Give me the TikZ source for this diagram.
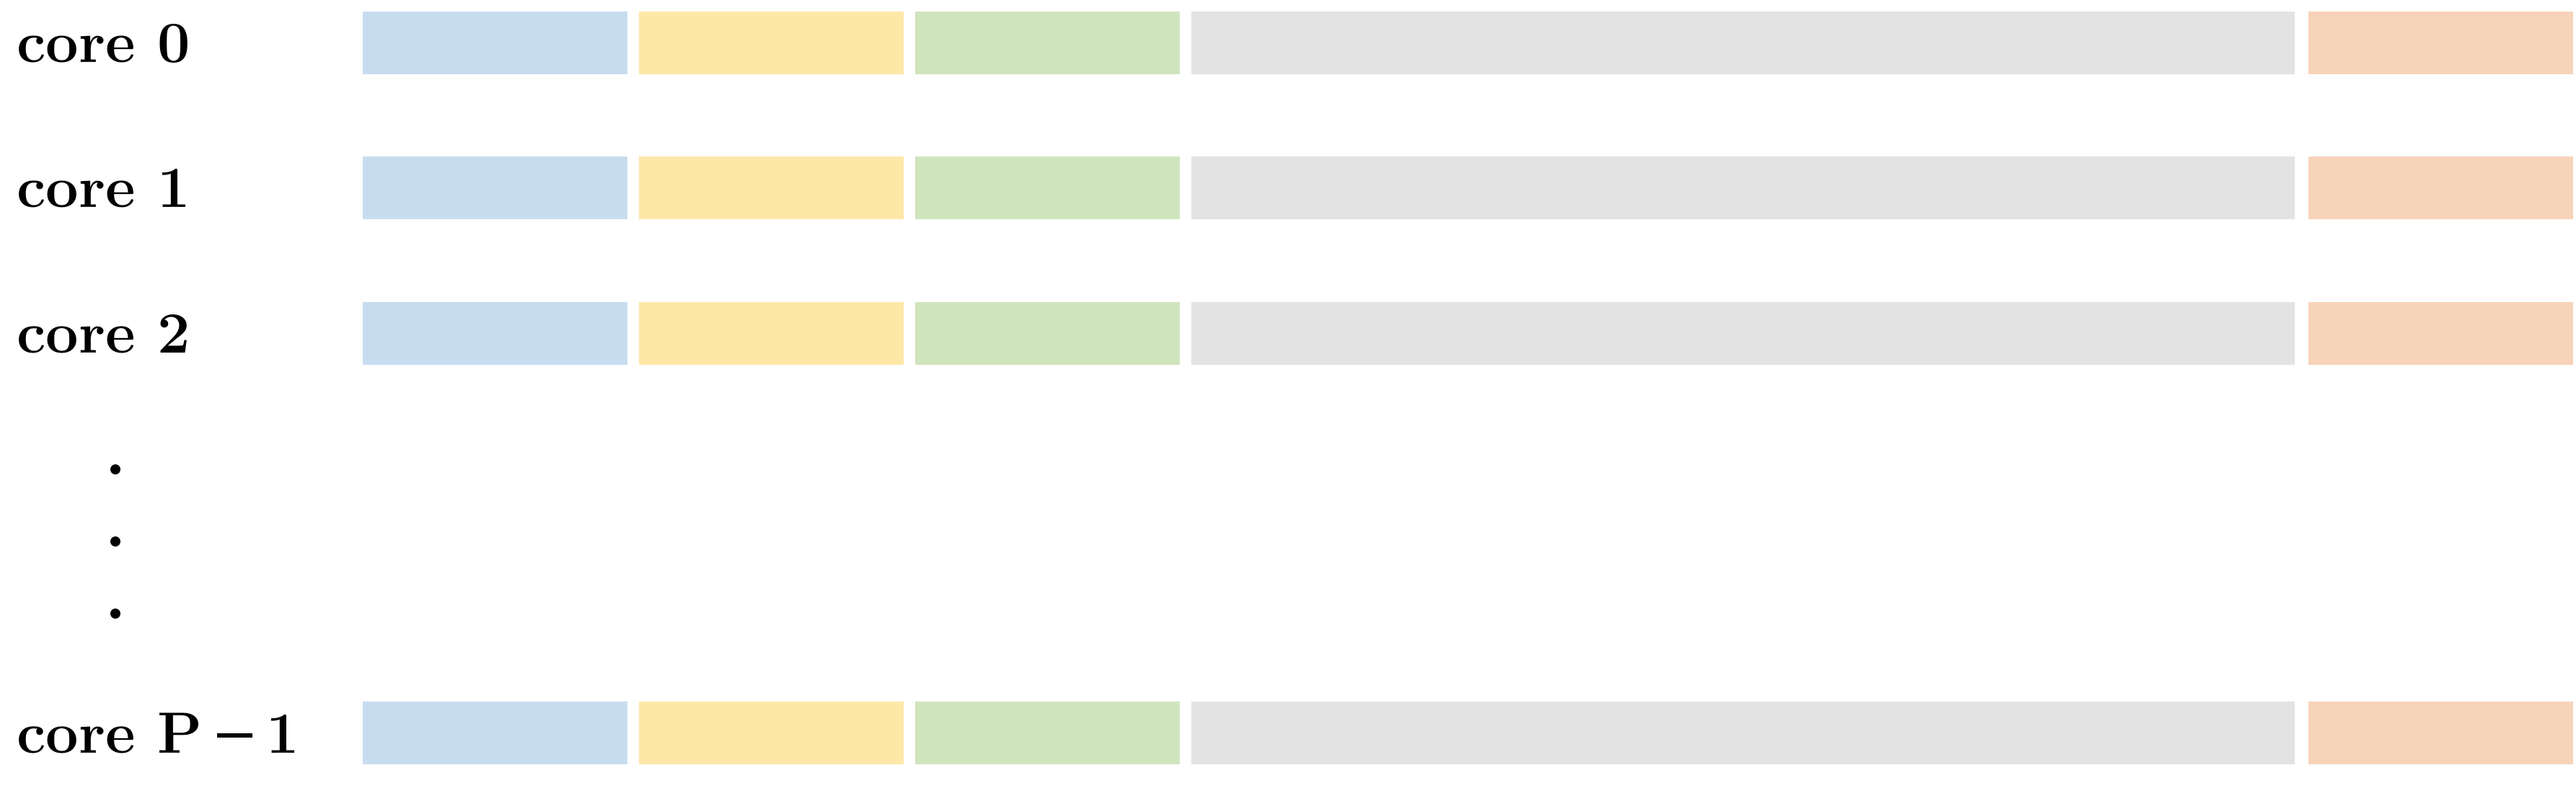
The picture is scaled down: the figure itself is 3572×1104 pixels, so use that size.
\documentclass[tikz,border=0pt]{standalone}
\definecolor{cblue}{HTML}{C8DCF0}
\definecolor{cyellow}{HTML}{FEE8A8}
\definecolor{cgreen}{HTML}{D0E4BE}
\definecolor{cgray}{HTML}{E3E3E3}
\definecolor{corange}{HTML}{F7D3B9}
\newcommand{\boldminus}{\hspace{0.25em}\rule[12pt]{28pt}{3.4pt}\hspace{0.25em}}
\begin{document}
\begin{tikzpicture}[x=0.02cm,y=-0.02cm,
  seg/.style={minimum height=1.74cm, inner sep=0pt, outer sep=0pt, anchor=north west, draw=none},
  short/.style={seg, minimum width=7.34cm},
  long/.style={seg, minimum width=30.6cm},
  lbl/.style={anchor=base west, inner sep=0pt, font=\fontsize{46}{50}\selectfont\bfseries},
  dot/.style={circle, fill=black, inner sep=0pt, minimum size=0.28cm}]
\useasboundingbox (0,0) rectangle (3572,1104);
\foreach \r/\y/\t in {0/16/{core 0}, 1/217/{core 1}, 2/419/{core 2}, 3/973/{core P\boldminus 1}}{
  \node[lbl] (lab\r) at (23,\y+71) {\t};
  \node[short, fill=cblue] (a\r) at (503,\y) {};
  \node[short, fill=cyellow] (b\r) at (886,\y) {};
  \node[short, fill=cgreen] (c\r) at (1269,\y) {};
  \node[long, fill=cgray] (d\r) at (1652,\y) {};
  \node[short, fill=corange] (e\r) at (3201,\y) {};
}
\node[dot] (dot1) at (160,651) {};
\node[dot] (dot2) at (160,751) {};
\node[dot] (dot3) at (160,851) {};
\end{tikzpicture}
\end{document}
